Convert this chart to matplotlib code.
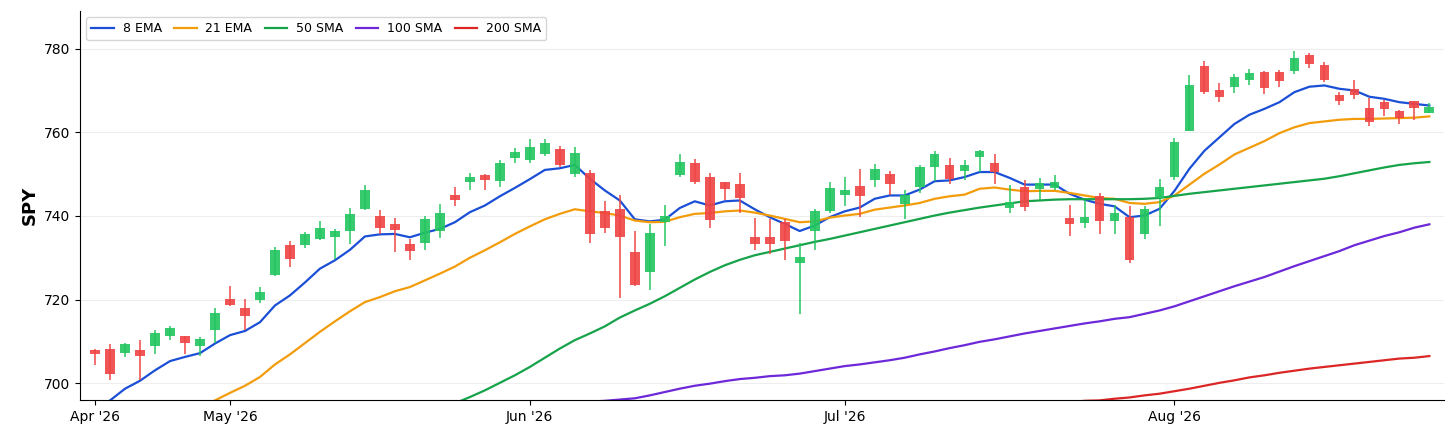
import matplotlib
matplotlib.use("Agg")
import matplotlib.pyplot as plt
import numpy as np
import pandas as pd

# trading days shown (NYSE holidays in range removed)
holidays = ["2026-05-25", "2026-06-19", "2026-07-03"]
dates = pd.bdate_range("2026-04-20", "2026-08-26")
dates = dates[~dates.isin(pd.to_datetime(holidays))]

opens = [708.0, 708.3, 707.2, 707.9, 708.8, 711.2, 711.2, 708.9, 712.7, 720.1,
         718.1, 719.8, 726.0, 733.0, 733.0, 734.5, 734.9, 736.5, 741.6, 739.9,
         738.1, 733.2, 733.6, 736.5, 745.1, 748.1, 749.9, 748.3, 753.9, 753.3,
         754.8, 756.0, 750.1, 750.3, 741.3, 741.7, 731.4, 726.7, 738.5, 749.7,
         752.6, 749.3, 748.1, 747.7, 734.9, 734.9, 738.5, 728.7, 736.5, 741.1,
         744.9, 747.1, 748.5, 750.1, 742.9, 747.0, 751.8, 752.3, 750.7, 754.0,
         752.7, 742.0, 746.9, 746.5, 746.7, 739.6, 738.3, 744.7, 738.9, 739.7,
         735.7, 744.3, 749.4, 760.4, 775.9, 770.1, 770.9, 772.5, 774.5, 774.5,
         774.6, 778.5, 776.1, 769.0, 770.4, 765.8, 767.2, 765.0, 767.4, 764.6]
highs = [708.1, 709.5, 709.6, 710.4, 712.7, 713.8, 711.4, 711.1, 718.0, 723.2,
         720.2, 723.0, 732.6, 734.1, 736.1, 738.8, 736.9, 741.9, 747.5, 741.5,
         739.6, 734.6, 739.9, 742.9, 747.0, 750.2, 750.0, 753.3, 756.2, 758.4,
         758.4, 756.8, 756.4, 750.9, 743.5, 745.1, 736.5, 738.0, 742.7, 754.8,
         753.7, 750.2, 748.2, 750.2, 739.6, 739.3, 739.3, 733.5, 741.7, 748.1,
         749.4, 751.3, 752.5, 750.7, 746.1, 752.1, 755.5, 753.9, 753.3, 755.8,
         754.7, 747.3, 748.6, 749.1, 749.9, 742.5, 743.9, 745.5, 742.5, 742.3,
         742.3, 748.9, 758.7, 773.6, 777.0, 771.7, 774.0, 775.1, 774.6, 774.8,
         779.4, 778.9, 776.7, 769.6, 772.4, 768.2, 767.7, 765.4, 767.6, 766.9]
lows = [704.3, 700.7, 706.3, 700.7, 706.9, 710.3, 707.1, 706.4, 709.6, 718.4,
        712.7, 719.2, 725.6, 727.8, 732.4, 734.3, 729.8, 733.2, 741.5, 735.7,
        731.4, 729.5, 731.8, 734.8, 742.4, 746.2, 746.1, 747.0, 752.6, 752.6,
        754.4, 751.7, 749.3, 733.5, 735.9, 720.5, 723.3, 722.4, 732.7, 749.4,
        747.7, 737.2, 743.7, 740.7, 731.9, 730.8, 729.4, 716.6, 731.9, 740.7,
        742.3, 739.7, 747.0, 745.1, 739.3, 745.5, 748.3, 747.7, 748.5, 750.5,
        747.7, 740.7, 741.3, 743.9, 746.3, 735.1, 737.2, 735.7, 735.7, 728.8,
        734.5, 737.5, 748.6, 760.3, 769.2, 767.2, 769.3, 771.4, 769.2, 770.9,
        774.0, 775.4, 772.0, 766.6, 768.0, 761.6, 764.0, 762.0, 763.0, 764.5]
closes = [706.9, 702.1, 709.3, 706.5, 712.1, 713.2, 709.6, 710.5, 716.8, 718.6,
          716.1, 721.8, 731.9, 729.6, 735.6, 737.2, 736.3, 740.4, 746.1, 737.2,
          736.7, 731.6, 739.2, 740.8, 743.7, 749.4, 748.5, 752.6, 755.4, 756.6,
          757.4, 752.3, 755.0, 735.7, 737.2, 734.9, 723.4, 735.9, 740.1, 752.9,
          748.2, 739.1, 746.5, 744.3, 733.4, 733.2, 734.0, 730.3, 741.1, 746.7,
          746.2, 744.7, 751.3, 747.7, 744.9, 751.7, 754.8, 748.9, 752.3, 755.6,
          750.5, 743.3, 742.1, 747.8, 748.1, 738.1, 739.7, 738.9, 740.7, 729.4,
          741.7, 747.0, 757.6, 771.2, 769.6, 768.5, 773.2, 774.1, 770.5, 772.2,
          777.8, 776.3, 772.4, 767.4, 769.0, 762.4, 765.6, 763.4, 765.8, 766.1]

nan = np.nan
ema8 = [693.9, 695.9, 698.7, 700.6, 703.1, 705.3, 706.3, 707.2, 709.5, 711.5,
        712.5, 714.6, 718.6, 721.0, 724.1, 727.4, 729.4, 731.9, 735.1, 735.6,
        735.7, 734.9, 736.0, 736.9, 738.5, 740.9, 742.5, 744.7, 746.7, 748.8,
        751.0, 751.4, 752.2, 748.9, 746.1, 743.7, 739.2, 738.7, 739.1, 741.9,
        743.5, 742.5, 743.5, 743.7, 741.6, 739.7, 738.1, 736.4, 737.7, 739.7,
        741.1, 742.0, 744.1, 744.9, 744.9, 746.3, 748.3, 748.5, 749.3, 750.5,
        750.5, 749.1, 747.5, 747.5, 747.5, 745.3, 743.9, 742.9, 742.3, 739.7,
        740.1, 741.7, 746.0, 751.3, 755.6, 758.8, 762.0, 764.2, 765.6, 767.2,
        769.6, 770.9, 771.2, 770.4, 770.0, 768.5, 768.0, 767.2, 766.8, 766.4]
ema21 = [nan, nan, nan, nan, nan, nan, nan, 694.3, 695.9, 697.7,
         699.4, 701.5, 704.5, 706.9, 709.6, 712.3, 714.8, 717.2, 719.4, 720.6,
         722.0, 723.0, 724.6, 726.2, 727.9, 730.0, 731.8, 733.7, 735.7, 737.5,
         739.2, 740.5, 741.6, 741.1, 740.7, 740.1, 738.9, 738.5, 738.6, 739.7,
         740.5, 740.7, 741.1, 741.3, 740.8, 740.1, 739.3, 738.5, 738.7, 739.6,
         740.1, 740.5, 741.5, 742.0, 742.5, 743.1, 744.1, 744.7, 745.1, 746.5,
         746.8, 746.3, 745.9, 746.0, 746.0, 745.5, 744.9, 744.3, 744.1, 743.1,
         742.9, 743.3, 744.9, 747.5, 750.1, 752.3, 754.7, 756.3, 757.9, 759.8,
         761.2, 762.2, 762.6, 763.0, 763.2, 763.2, 763.3, 763.4, 763.5, 763.8]
sma50 = [nan] * 24 + [
         695.2, 696.7, 698.3, 700.1, 701.9, 703.9,
         706.1, 708.3, 710.3, 711.9, 713.6, 715.7, 717.4, 719.0, 720.8, 722.8,
         724.8, 726.6, 728.2, 729.5, 730.6, 731.4, 732.2, 733.0, 733.8, 734.5,
         735.3, 736.1, 736.9, 737.7, 738.5, 739.3, 740.1, 740.8, 741.4, 742.0,
         742.5, 743.0, 743.5, 743.7, 743.9, 744.0, 744.0, 744.0, 744.0, 744.0,
         744.1, 744.3, 744.8, 745.3, 745.7, 746.1, 746.5, 746.9, 747.3, 747.7,
         748.1, 748.5, 748.9, 749.5, 750.2, 750.9, 751.6, 752.2, 752.6, 752.9]
sma100 = [nan] * 33 + [
          695.6, 695.8, 696.1, 696.4, 697.1, 697.9, 698.7,
          699.4, 699.9, 700.5, 701.0, 701.3, 701.7, 701.9, 702.3, 702.9, 703.5,
          704.1, 704.5, 705.0, 705.5, 706.1, 706.9, 707.6, 708.4, 709.1, 709.9,
          710.5, 711.2, 711.9, 712.5, 713.1, 713.7, 714.3, 714.8, 715.4, 715.8,
          716.6, 717.4, 718.4, 719.6, 720.8, 722.0, 723.2, 724.3, 725.4, 726.7,
          728.0, 729.2, 730.4, 731.6, 733.0, 734.1, 735.2, 736.1, 737.2, 738.0]
sma200 = [nan] * 65 + [
          695.5, 695.8, 695.9, 696.3, 696.6,
          697.1, 697.5, 698.1, 698.7, 699.4, 700.1, 700.7, 701.4, 701.9, 702.5,
          703.0, 703.5, 703.9, 704.3, 704.7, 705.1, 705.5, 705.9, 706.1, 706.5]

fig = plt.figure(figsize=(14.56, 4.4), dpi=100)
ax = fig.add_axes([0.055, 0.09, 0.937, 0.885])

x = np.arange(len(dates))
o = np.array(opens); h = np.array(highs); l = np.array(lows); c = np.array(closes)

# moving averages
ax.plot(x, ema8, color="#1a4fd6", lw=1.6, label="8 EMA", zorder=2)
ax.plot(x, ema21, color="#f39c0b", lw=1.6, label="21 EMA", zorder=2)
ax.plot(x, sma50, color="#16a34a", lw=1.6, label="50 SMA", zorder=2)
ax.plot(x, sma100, color="#6d28d9", lw=1.6, label="100 SMA", zorder=2)
ax.plot(x, sma200, color="#dc2626", lw=1.6, label="200 SMA", zorder=2)

# candles
up = c >= o
cols = np.where(up, "#22c55e", "#ef4444")
ax.vlines(x, l, h, colors=cols, lw=1.2, alpha=0.9, zorder=3)
ax.bar(x, np.maximum(np.abs(c - o), 0.3), bottom=np.minimum(o, c), width=0.65,
       color=cols, alpha=0.9, zorder=3)

ax.set_xlim(-1, 90)
ax.set_ylim(695.9, 789)
ax.set_yticks([700, 720, 740, 760, 780])

# month ticks at first trading day
month = dates.to_period("M")
first = [i for i in range(len(dates)) if i == 0 or month[i] != month[i - 1]]
ax.set_xticks(first)
ax.set_xticklabels([dates[i].strftime("%b '%y") for i in first])
ax.tick_params(labelsize=10)

ax.grid(axis="y", color="#eeeeee", lw=0.8)
ax.set_axisbelow(True)
for s in ["top", "right"]:
    ax.spines[s].set_visible(False)

ax.set_ylabel("SPY", fontsize=13, fontweight="bold")
ax.legend(loc="upper left", ncol=5, fontsize=9, columnspacing=1.0,
          handlelength=1.8, handletextpad=0.7)

fig.savefig("out.png", dpi=100)
